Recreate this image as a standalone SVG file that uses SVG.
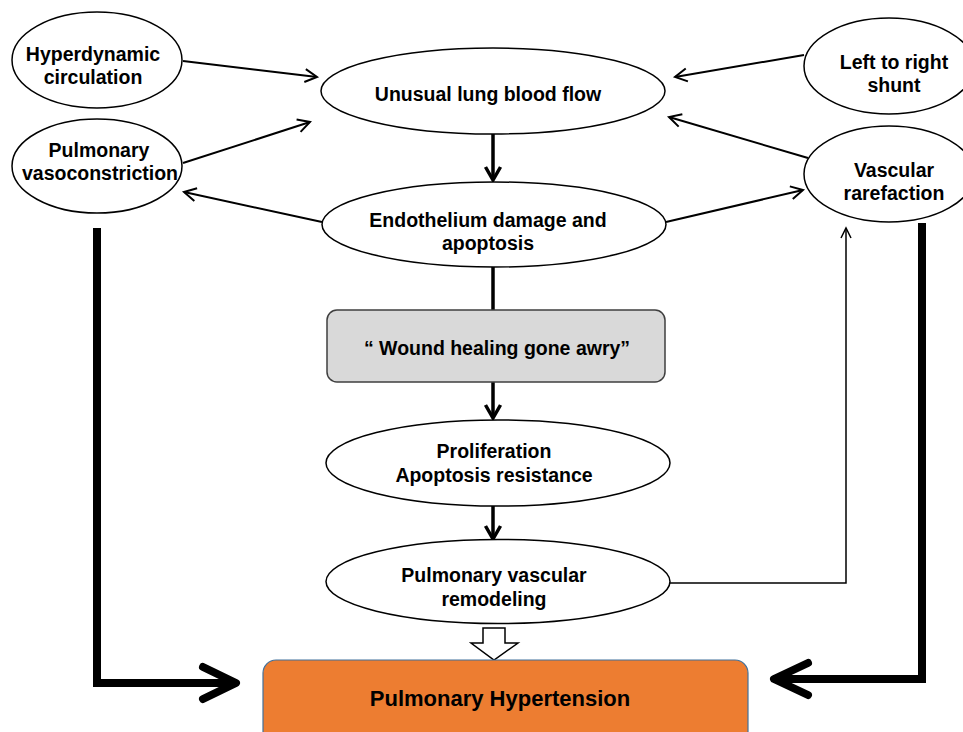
<svg xmlns="http://www.w3.org/2000/svg" width="963" height="732" viewBox="0 0 963 732">
<style>
  .node ellipse { fill: #ffffff; stroke: #000000; stroke-width: 1.5; }
  .lbl { font-family: "Liberation Sans", Arial, sans-serif; font-weight: bold; font-size: 19.5px; fill: #000000; text-anchor: middle; }
  .thin { fill: none; stroke: #000000; stroke-width: 2; }
  .mid { fill: none; stroke: #000000; stroke-width: 3.5; }
  .fb { fill: none; stroke: #000000; stroke-width: 1.5; }
  .thick { fill: none; stroke: #000000; stroke-width: 8; stroke-linejoin: miter; }
  .chev { fill: none; stroke: #000000; stroke-width: 8; stroke-linecap: round; stroke-linejoin: round; }
</style>
<defs>
  <marker id="openV" markerUnits="userSpaceOnUse" markerWidth="16" markerHeight="16" viewBox="0 0 16 16" refX="14" refY="8" orient="auto" overflow="visible">
    <path d="M2,1.5 L14,8 L2,14.5" fill="none" stroke="#000" stroke-width="2"/>
  </marker>
  <marker id="openVb" markerUnits="userSpaceOnUse" markerWidth="18" markerHeight="18" viewBox="0 0 18 18" refX="15" refY="9" orient="auto" overflow="visible">
    <path d="M2,1.5 L15,9 L2,16.5" fill="none" stroke="#000" stroke-width="3.5"/>
  </marker>
  <marker id="openVs" markerUnits="userSpaceOnUse" markerWidth="12" markerHeight="12" viewBox="0 0 12 12" refX="11" refY="6" orient="auto" overflow="visible">
    <path d="M1,1 L11,6 L1,11" fill="none" stroke="#000" stroke-width="1.5"/>
  </marker>
</defs>

<g id="connectors">
  <line class="thin" x1="183" y1="61" x2="317" y2="77" marker-end="url(#openV)"/>
  <line class="thin" x1="183" y1="163" x2="310" y2="122" marker-end="url(#openV)"/>
  <line class="thin" x1="322" y1="222" x2="184" y2="192" marker-end="url(#openV)"/>
  <line class="thin" x1="804" y1="55" x2="675" y2="77" marker-end="url(#openV)"/>
  <line class="thin" x1="808" y1="158" x2="669" y2="117" marker-end="url(#openV)"/>
  <line class="thin" x1="666" y1="222" x2="803" y2="190" marker-end="url(#openV)"/>
  <line class="mid" x1="493" y1="134" x2="493" y2="180" marker-end="url(#openVb)"/>
  <line class="mid" x1="493" y1="267" x2="493" y2="310"/>
  <line class="mid" x1="493" y1="382" x2="493" y2="418" marker-end="url(#openVb)"/>
  <line class="mid" x1="493" y1="506" x2="493" y2="539" marker-end="url(#openVb)"/>
  <polyline class="fb" points="670,583 846,583 846,228" marker-end="url(#openVs)"/>
  <polygon points="483,628 505,628 505,643 518,643 494,660 471,643 483,643" fill="#ffffff" stroke="#000" stroke-width="1.5"/>
  <polyline class="thick" points="97,228 97,683 232,683"/>
  <polyline class="chev" points="203,667 236,683 203,699"/>
  <polyline class="thick" points="922,223 922,679 778,679"/>
  <polyline class="chev" points="808,663 774,679 808,695"/>
</g>

<g id="hyperdynamic" class="node">
  <ellipse cx="97" cy="60" rx="85" ry="48"/>
  <text class="lbl" x="93" y="61">Hyperdynamic</text>
  <text class="lbl" x="93" y="84">circulation</text>
</g>
<g id="vasoconstriction" class="node">
  <ellipse cx="97" cy="166" rx="85" ry="47"/>
  <text class="lbl" x="99" y="157">Pulmonary</text>
  <text class="lbl" x="100" y="180">vasoconstriction</text>
</g>
<g id="unusual" class="node">
  <ellipse cx="493" cy="91" rx="172" ry="43"/>
  <text class="lbl" x="488" y="101">Unusual lung blood flow</text>
</g>
<g id="shunt" class="node">
  <ellipse cx="889" cy="66" rx="85" ry="48"/>
  <text class="lbl" x="894" y="69">Left to right</text>
  <text class="lbl" x="894" y="92">shunt</text>
</g>
<g id="rarefaction" class="node">
  <ellipse cx="889" cy="174" rx="85" ry="48"/>
  <text class="lbl" x="894" y="177">Vascular</text>
  <text class="lbl" x="894" y="200">rarefaction</text>
</g>
<g id="endothelium" class="node">
  <ellipse cx="494" cy="224.5" rx="172" ry="42.5"/>
  <text class="lbl" x="488" y="227">Endothelium damage and</text>
  <text class="lbl" x="488" y="250">apoptosis</text>
</g>
<g id="wound" class="node">
  <rect x="327" y="310" width="338" height="72" rx="10" ry="10" fill="#d9d9d9" stroke="#3f3f3f" stroke-width="1.5"/>
  <text class="lbl" x="497" y="355">“ Wound healing gone awry”</text>
</g>
<g id="proliferation" class="node">
  <ellipse cx="498" cy="463" rx="172" ry="43"/>
  <text class="lbl" x="494" y="458">Proliferation</text>
  <text class="lbl" x="494" y="482">Apoptosis resistance</text>
</g>
<g id="remodeling" class="node">
  <ellipse cx="498" cy="581.5" rx="172" ry="42"/>
  <text class="lbl" x="494" y="582">Pulmonary vascular</text>
  <text class="lbl" x="494" y="606">remodeling</text>
</g>
<g id="hypertension" class="node">
  <rect x="263" y="660" width="485" height="85" rx="13" ry="13" fill="#ed7d31" stroke="#41719c" stroke-width="1.2"/>
  <text class="lbl" x="500" y="706" style="font-size:22px">Pulmonary Hypertension</text>
</g>
</svg>
